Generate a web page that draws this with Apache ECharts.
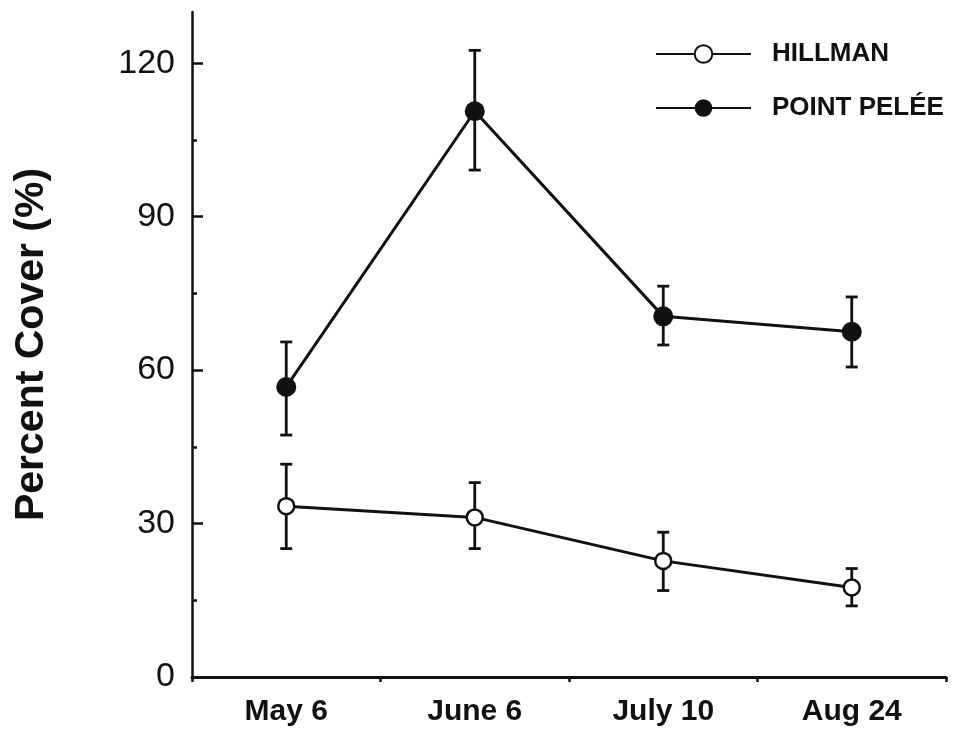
<!DOCTYPE html>
<html>
<head>
<meta charset="utf-8">
<script src="https://cdn.jsdelivr.net/npm/echarts@6/dist/echarts.min.js"></script>
<style>
  html, body { margin: 0; padding: 0; background: #fff; }
  #main { width: 953px; height: 735px; }
</style>
</head>
<body>
<div id="main"></div>
<script>
// data
var dates = ['May 6', 'June 6', 'July 10', 'Aug 24'];
var hillman = [33.4, 31.2, 22.7, 17.5];
var hillmanLow = [25.1, 25.1, 16.9, 13.9];
var hillmanHigh = [41.6, 38.0, 28.3, 21.2];
var pelee = [56.7, 110.6, 70.5, 67.5];
var peleeLow = [47.3, 99.1, 64.9, 60.6];
var peleeHigh = [65.5, 122.5, 76.4, 74.3];
var yTicks = [0, 30, 60, 90, 120];
var yMinorTicks = [15, 45, 75, 105];

var FONT = 'Liberation Sans';
var INK = '#111';

// rows of [categoryIndex, low, high] for the error bars
function errRows(low, high) {
  return low.map(function (v, i) { return [i, v, high[i]]; });
}

// vertical whisker with caps
function renderErr(params, api) {
  var lo = api.coord([api.value(0), api.value(1)]);
  var hi = api.coord([api.value(0), api.value(2)]);
  var w = 6;
  var st = { stroke: INK, lineWidth: 2.8 };
  return {
    type: 'group',
    children: [
      { type: 'line', shape: { x1: lo[0], y1: lo[1], x2: hi[0], y2: hi[1] }, style: st },
      { type: 'line', shape: { x1: lo[0] - w, y1: lo[1], x2: lo[0] + w, y2: lo[1] }, style: st },
      { type: 'line', shape: { x1: hi[0] - w, y1: hi[1], x2: hi[0] + w, y2: hi[1] }, style: st }
    ]
  };
}

var chart = echarts.init(document.getElementById('main'));
chart.setOption({
  backgroundColor: '#fff',
  animation: false,
  textStyle: { fontFamily: FONT, color: INK },
  grid: { left: 192, right: 7, top: 12, bottom: 58, containLabel: false, outerBoundsMode: 'none' },
  legend: {
    orient: 'vertical',
    left: 650,
    top: 36,
    itemWidth: 95,
    itemHeight: 22,
    itemGap: 28,
    data: ['HILLMAN', 'POINT PELÉE'],
    textStyle: { fontFamily: FONT, fontSize: 26, fontWeight: 'bold', color: INK, padding: [0, 0, 0, 16] }
  },
  xAxis: [{
    type: 'category',
    data: dates,
    boundaryGap: true,
    axisLine: { lineStyle: { color: INK, width: 3 } },
    axisTick: { alignWithLabel: true, length: 9, lineStyle: { color: INK, width: 2.5 } },
    axisLabel: { fontFamily: FONT, fontSize: 30, fontWeight: 'bold', color: INK, margin: 20 },
    splitLine: { show: false }
  }, {
    type: 'category',
    data: dates,
    boundaryGap: true,
    position: 'bottom',
    axisLine: { show: true, onZero: false, lineStyle: { color: 'rgba(0,0,0,0)', width: 0 } },
    axisTick: { show: true, length: 5, interval: 0, lineStyle: { color: INK, width: 2.5 } },
    axisLabel: { show: false },
    splitLine: { show: false }
  }],
  yAxis: [{
    type: 'value',
    min: 0,
    max: 130,
    interval: 30,
    name: 'Percent Cover (%)',
    nameLocation: 'middle',
    nameRotate: 90,
    nameGap: 140,
    nameTextStyle: { fontFamily: FONT, fontSize: 41, fontWeight: 'bold', color: INK },
    axisLine: { show: true, lineStyle: { color: INK, width: 2.5 } },
    axisTick: { show: true, inside: true, length: 11, customValues: yTicks, lineStyle: { color: INK, width: 2.5 } },
    axisLabel: { fontFamily: FONT, fontSize: 34, color: INK, margin: 17, customValues: yTicks },
    splitLine: { show: false }
  }, {
    type: 'value',
    min: 0,
    max: 130,
    interval: 30,
    position: 'left',
    axisLine: { show: false },
    axisTick: { show: true, inside: true, length: 5, customValues: yMinorTicks, lineStyle: { color: INK, width: 2.5 } },
    axisLabel: { show: false },
    splitLine: { show: false }
  }],
  series: [{
    name: 'HILLMAN',
    type: 'line',
    data: hillman,
    symbol: 'circle',
    symbolSize: 16,
    lineStyle: { color: INK, width: 3 },
    itemStyle: { color: '#fff', borderColor: INK, borderWidth: 2.5 },
    z: 5
  }, {
    name: 'POINT PELÉE',
    type: 'line',
    data: pelee,
    symbol: 'circle',
    symbolSize: 20,
    lineStyle: { color: INK, width: 3 },
    itemStyle: { color: INK, borderColor: INK, borderWidth: 0 },
    z: 5
  }, {
    type: 'custom',
    renderItem: renderErr,
    data: errRows(hillmanLow, hillmanHigh),
    encode: { x: 0, y: [1, 2] },
    z: 3
  }, {
    type: 'custom',
    renderItem: renderErr,
    data: errRows(peleeLow, peleeHigh),
    encode: { x: 0, y: [1, 2] },
    z: 3
  }]
});
</script>
</body>
</html>
